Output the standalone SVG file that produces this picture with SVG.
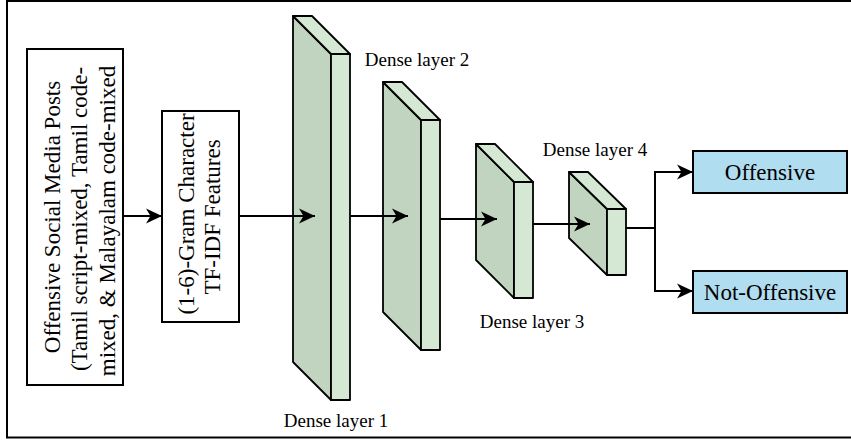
<svg xmlns="http://www.w3.org/2000/svg" width="851" height="441" viewBox="0 0 851 441">
  <style>
    .txt { font-family: "Liberation Serif", "Times New Roman", serif; fill: #000; }
    .big { font-size: 23px; }
    .lbl { font-size: 19px; }
    .box { fill: #fff; stroke: #000; stroke-width: 2; }
    .out { fill: #b1ddf0; stroke: #000; stroke-width: 2; }
    .side { fill: #c1d4bf; stroke: #000; stroke-width: 1.8; stroke-linejoin: round; }
    .face { fill: #d5e8d4; stroke: #000; stroke-width: 1.8; stroke-linejoin: round; }
    .edge { fill: none; stroke: #000; stroke-width: 2; }
  </style>
  <defs>
    <marker id="arrow" markerUnits="userSpaceOnUse" markerWidth="17" markerHeight="16" refX="16" refY="7.5" orient="auto" overflow="visible">
      <path d="M0,0 L16,7.5 L0,15 L4.5,7.5 Z" fill="#000"/>
    </marker>
  </defs>

  <!-- frame -->
  <rect x="7" y="1" width="860" height="436.5" fill="#fff" stroke="#000" stroke-width="2"/>

  <!-- input posts -->
  <g id="input">
    <rect class="box" x="27" y="49" width="96" height="336"/>
    <g class="txt big" text-anchor="middle">
      <text transform="translate(59.5,217) rotate(-90)">Offensive Social Media Posts</text>
      <text transform="translate(87,219) rotate(-90)">(Tamil script-mixed, Tamil code-</text>
      <text transform="translate(114.5,221) rotate(-90)">mixed, &amp; Malayalam code-mixed</text>
    </g>
  </g>

  <!-- features -->
  <g id="features">
    <rect class="box" x="162" y="111" width="77" height="211"/>
    <g class="txt big" text-anchor="middle">
      <text transform="translate(194,214) rotate(-90)">(1-6)-Gram Character</text>
      <text transform="translate(220,217) rotate(-90)">TF-IDF Features</text>
    </g>
  </g>

  <!-- dense layers -->
  <g id="dense1">
    <polygon class="side" points="293,16 331,54 331,400 293,362"/>
    <polygon class="face" points="293,16 312,16 350,54 331,54"/>
    <rect class="face" x="331" y="54" width="19" height="346"/>
    <text class="txt lbl" x="336" y="427" text-anchor="middle">Dense layer 1</text>
  </g>
  <g id="dense2">
    <polygon class="side" points="383,82 421,120 421,350 383,312"/>
    <polygon class="face" points="383,82 402,82 440,120 421,120"/>
    <rect class="face" x="421" y="120" width="19" height="230"/>
    <text class="txt lbl" x="417" y="66" text-anchor="middle">Dense layer 2</text>
  </g>
  <g id="dense3">
    <polygon class="side" points="476,144 514,182 514,298 476,260"/>
    <polygon class="face" points="476,144 495,144 533,182 514,182"/>
    <rect class="face" x="514" y="182" width="19" height="116"/>
    <text class="txt lbl" x="532" y="328" text-anchor="middle">Dense layer 3</text>
  </g>
  <g id="dense4">
    <polygon class="side" points="569,172 607,209 607,275 569,238"/>
    <polygon class="face" points="569,172 588,172 626,209 607,209"/>
    <rect class="face" x="607" y="209" width="19" height="66"/>
    <text class="txt lbl" x="595" y="156" text-anchor="middle">Dense layer 4</text>
  </g>

  <!-- outputs -->
  <g id="offensive">
    <rect class="out" x="693" y="151" width="154" height="42"/>
    <text class="txt big" x="770" y="180" text-anchor="middle">Offensive</text>
  </g>
  <g id="not-offensive">
    <rect class="out" x="693" y="271" width="154" height="42"/>
    <text class="txt big" x="770" y="300" text-anchor="middle">Not-Offensive</text>
  </g>

  <!-- connectors -->
  <g id="connectors">
    <path class="edge" d="M123,216 H162" marker-end="url(#arrow)"/>
    <path class="edge" d="M239,216 H315" marker-end="url(#arrow)"/>
    <path class="edge" d="M350,216 H408" marker-end="url(#arrow)"/>
    <path class="edge" d="M440,219 H497" marker-end="url(#arrow)"/>
    <path class="edge" d="M533,224 H590" marker-end="url(#arrow)"/>
    <path class="edge" d="M626,228 H655 V172 H693" marker-end="url(#arrow)"/>
    <path class="edge" d="M655,228 V291 H693" marker-end="url(#arrow)"/>
  </g>
</svg>
